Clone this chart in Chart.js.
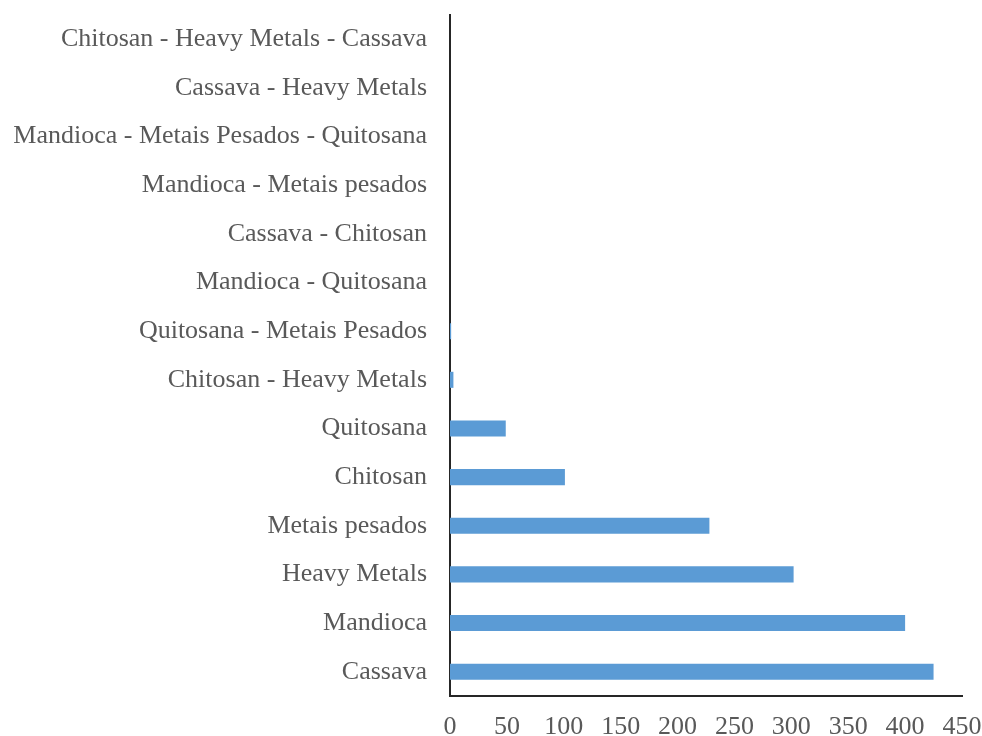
<!DOCTYPE html>
<html>
<head>
<meta charset="utf-8">
<script src="https://cdn.jsdelivr.net/npm/chart.js@4/dist/chart.umd.min.js"></script>
<style>
  html, body { margin: 0; padding: 0; background: #ffffff; }
  #wrap { width: 982px; height: 736px; position: relative; }
</style>
</head>
<body>
<div id="wrap"><canvas id="c"></canvas></div>
<script>
// Search terms, listed from the bottom of the chart upwards
const categories = [
  "Cassava",
  "Mandioca",
  "Heavy Metals",
  "Metais pesados",
  "Chitosan",
  "Quitosana",
  "Chitosan - Heavy Metals",
  "Quitosana - Metais Pesados",
  "Mandioca - Quitosana",
  "Cassava - Chitosan",
  "Mandioca - Metais pesados",
  "Mandioca - Metais Pesados - Quitosana",
  "Cassava - Heavy Metals",
  "Chitosan - Heavy Metals - Cassava"
];
// Number of results per term
const counts = [425, 400, 302, 228, 101, 49, 3, 1, 0, 0, 0, 0, 0, 0];
const xTicks = [0, 50, 100, 150, 200, 250, 300, 350, 400, 450];

const labelFont = { family: "'Liberation Serif', 'Times New Roman', serif", size: 26 };
const textColor = "#595959";

new Chart(document.getElementById("c"), {
  type: "bar",
  data: {
    labels: categories,
    datasets: [{
      data: counts,
      backgroundColor: "#5b9bd5",
      borderWidth: 0,
      categoryPercentage: 1,
      barPercentage: 0.33
    }]
  },
  options: {
    indexAxis: "y",
    responsive: true,
    maintainAspectRatio: false,
    animation: false,
    layout: { padding: { top: 15, right: 20, bottom: 0, left: 0 } },
    plugins: { legend: { display: false }, tooltip: { enabled: false } },
    scales: {
      x: {
        min: xTicks[0],
        max: xTicks[xTicks.length - 1],
        afterBuildTicks: (axis) => { axis.ticks = xTicks.map(v => ({ value: v })); },
        afterFit: (axis) => { axis.height = 40; axis.paddingLeft = 0; axis.paddingRight = 0; },
        grid: { display: false },
        border: { display: true, color: "#262626", width: 2 },
        ticks: { color: textColor, font: labelFont, padding: 8, maxRotation: 0 }
      },
      y: {
        reverse: true,
        afterFit: (axis) => { axis.width = 450; axis.paddingTop = 0; axis.paddingBottom = 0; },
        grid: { display: false },
        border: { display: true, color: "#262626", width: 2 },
        ticks: { color: textColor, font: labelFont, padding: 15, autoSkip: false }
      }
    }
  }
});
</script>
</body>
</html>
